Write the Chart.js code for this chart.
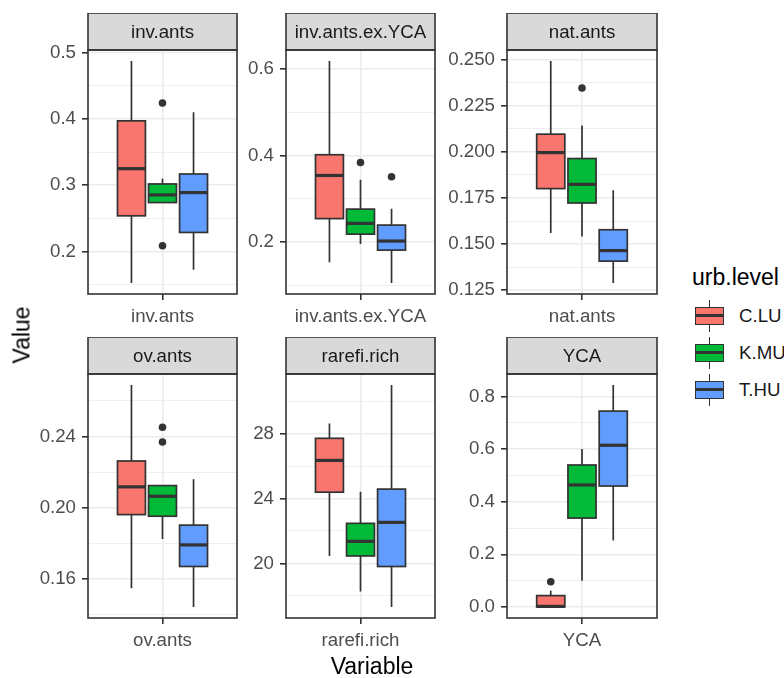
<!DOCTYPE html>
<html>
<head>
<meta charset="utf-8">
<script src="https://cdn.jsdelivr.net/npm/chart.js@4/dist/chart.umd.min.js"></script>
<style>
  body { margin: 0; background: #fff; font-family: "Liberation Sans", Arial, sans-serif; }
  #wrap { position: relative; width: 784px; height: 678px; overflow: hidden; }
  canvas { position: absolute; }
  .txt { position: absolute; white-space: nowrap; line-height: 1; }
  .key { position: absolute; left: 695px; width: 29px; height: 32px; }
  .key .wh { position: absolute; left: 13.7px; top: 0; width: 1.6px; height: 32px; background: #333; }
  .key .bx { position: absolute; left: 0; top: 7px; width: 29px; height: 18px; box-sizing: border-box; border: 1.6px solid #333; }
  .key .md { position: absolute; left: 0; top: 6.3px; width: 100%; height: 2.4px; background: #333; }
</style>
</head>
<body>
<div id="wrap"></div>
<script>
const variables = ['inv.ants', 'inv.ants.ex.YCA', 'nat.ants', 'ov.ants', 'rarefi.rich', 'YCA'];
const groups = ['C.LU', 'K.MU', 'T.HU'];
const groupColors = ['#F8766D', '#00BA38', '#619CFF'];

// per group (C.LU, K.MU, T.HU): [lower whisker, Q1, median, Q3, upper whisker]
const invAnts = [[0.153, 0.254, 0.325, 0.397, 0.487], [0.274, 0.274, 0.2855, 0.302, 0.310], [0.173, 0.229, 0.289, 0.317, 0.410]];
const invAntsExYCA = [[0.153, 0.254, 0.354, 0.402, 0.619], [0.195, 0.218, 0.243, 0.276, 0.344], [0.105, 0.181, 0.202, 0.239, 0.277]];
const natAnts = [[0.156, 0.1801, 0.1996, 0.2096, 0.2492], [0.1541, 0.1723, 0.1824, 0.1964, 0.2143], [0.129, 0.1408, 0.1465, 0.1578, 0.1792]];
const ovAnts = [[0.1549, 0.1962, 0.2118, 0.2263, 0.2689], [0.1825, 0.1953, 0.2065, 0.2125, 0.2125], [0.1444, 0.1671, 0.1792, 0.1903, 0.216]];
const rarefiRich = [[20.46, 24.39, 26.35, 27.71, 28.62], [18.27, 20.46, 21.36, 22.47, 24.41], [17.32, 19.81, 22.53, 24.58, 30.99]];
const yca = [[0, 0, 0.002, 0.043, 0.062], [0.1, 0.338, 0.464, 0.54, 0.601], [0.253, 0.46, 0.615, 0.745, 0.844]];

// outliers per group
const invAntsOut = [[], [0.424, 0.209], []];
const invAntsExYCAOut = [[], [0.384], [0.351]];
const natAntsOut = [[], [0.2346], []];
const ovAntsOut = [[], [0.2452, 0.237], []];
const rarefiRichOut = [[], [], []];
const ycaOut = [[0.096], [], []];

// y tick labels
const invAntsTicks = ['0.2', '0.3', '0.4', '0.5'];
const invAntsExYCATicks = ['0.2', '0.4', '0.6'];
const natAntsTicks = ['0.125', '0.150', '0.175', '0.200', '0.225', '0.250'];
const ovAntsTicks = ['0.16', '0.20', '0.24'];
const rarefiRichTicks = ['20', '24', '28'];
const ycaTicks = ['0.0', '0.2', '0.4', '0.6', '0.8'];

const panels = [
    { stats: invAnts, out: invAntsOut, ticks: invAntsTicks },
    { stats: invAntsExYCA, out: invAntsExYCAOut, ticks: invAntsExYCATicks },
    { stats: natAnts, out: natAntsOut, ticks: natAntsTicks },
    { stats: ovAnts, out: ovAntsOut, ticks: ovAntsTicks },
    { stats: rarefiRich, out: rarefiRichOut, ticks: rarefiRichTicks },
    { stats: yca, out: ycaOut, ticks: ycaTicks }
];

// dodged box positions on the discrete axis (single category at 1)
const groupX = [0.75, 1.0, 1.25];
const halfBox = 0.1125;

const FONT = 'Liberation Sans';
const plotLefts = [88, 286, 507];
const plotWidths = [149, 149, 150];
const stripTops = [13, 337];
const STRIP = 37, PLOT_H = 244, YAX = 78, XAX = 36, PAD_R = 8;

const wrap = document.getElementById('wrap');

function addText(text, x, y, size, color, rotate) {
    const d = document.createElement('div');
    d.className = 'txt';
    d.textContent = text;
    d.style.left = x + 'px';
    d.style.top = y + 'px';
    d.style.fontSize = size + 'px';
    d.style.color = color;
    d.style.transform = 'translate(-50%,-50%)' + (rotate ? ' rotate(-90deg)' : '');
    wrap.appendChild(d);
    return d;
}

function panelPlugin(name, stats) {
    return {
        id: 'boxes',
        beforeDatasetsDraw(chart) {
            const { ctx, scales: { x, y } } = chart;
            ctx.save();
            ctx.strokeStyle = '#333333';
            stats.forEach((s, i) => {
                const c = x.getPixelForValue(groupX[i]);
                const l = x.getPixelForValue(groupX[i] - halfBox);
                const r = x.getPixelForValue(groupX[i] + halfBox);
                ctx.lineWidth = 1.7;
                ctx.beginPath();
                ctx.moveTo(c, y.getPixelForValue(s[0]));
                ctx.lineTo(c, y.getPixelForValue(s[1]));
                ctx.moveTo(c, y.getPixelForValue(s[3]));
                ctx.lineTo(c, y.getPixelForValue(s[4]));
                ctx.stroke();
                const top = y.getPixelForValue(s[3]);
                const bot = y.getPixelForValue(s[1]);
                ctx.fillStyle = groupColors[i];
                ctx.fillRect(l, top, r - l, bot - top);
                ctx.strokeRect(l, top, r - l, bot - top);
                ctx.lineWidth = 3.2;
                const m = y.getPixelForValue(s[2]);
                ctx.beginPath();
                ctx.moveTo(l, m);
                ctx.lineTo(r, m);
                ctx.stroke();
            });
            ctx.restore();
        },
        afterDraw(chart) {
            const { ctx, chartArea: a } = chart;
            ctx.save();
            ctx.lineWidth = 1.6;
            ctx.strokeStyle = '#333333';
            ctx.fillStyle = '#d9d9d9';
            ctx.fillRect(a.left, a.top - STRIP, a.right - a.left, STRIP);
            ctx.strokeRect(a.left, a.top - STRIP, a.right - a.left, STRIP);
            ctx.strokeRect(a.left, a.top, a.right - a.left, a.bottom - a.top);
            ctx.fillStyle = '#1a1a1a';
            ctx.font = '18.7px "' + FONT + '"';
            ctx.textAlign = 'center';
            ctx.textBaseline = 'middle';
            ctx.fillText(name, (a.left + a.right) / 2, a.top - STRIP / 2 + 1);
            ctx.restore();
        }
    };
}

panels.forEach((p, k) => {
    const col = k % 3, row = Math.floor(k / 3);
    const name = variables[k];
    const canvas = document.createElement('canvas');
    const w = YAX + plotWidths[col] + PAD_R;
    const h = STRIP + PLOT_H + XAX;
    canvas.width = w;
    canvas.height = h;
    canvas.style.left = (plotLefts[col] - YAX) + 'px';
    canvas.style.top = stripTops[row] + 'px';
    wrap.appendChild(canvas);

    // y range: data range expanded by 5% on each side
    const all = p.stats.flat().concat(p.out.flat());
    const lo = Math.min(...all), hi = Math.max(...all);
    const ext = (hi - lo) * 0.05;
    const yMin = lo - ext, yMax = hi + ext;

    const major = p.ticks.map(Number);
    const step = major[1] - major[0];
    const minor = [];
    for (let v = major[0] - step / 2; v <= yMax; v += step) {
        if (v >= yMin) minor.push(Number(v.toFixed(6)));
    }
    const isMajor = v => major.some(m => Math.abs(m - v) < step * 1e-3);

    const points = [];
    p.out.forEach((vals, i) => vals.forEach(v => points.push({ x: groupX[i], y: v })));

    new Chart(canvas, {
        type: 'scatter',
        data: {
            datasets: [{
                data: points,
                pointRadius: 3.8,
                pointBackgroundColor: '#333333',
                pointBorderWidth: 0
            }]
        },
        options: {
            responsive: false,
            animation: false,
            layout: { padding: { top: STRIP, right: PAD_R } },
            plugins: { legend: { display: false }, tooltip: { enabled: false } },
            scales: {
                x: {
                    type: 'linear',
                    min: 0.4,
                    max: 1.6,
                    afterBuildTicks: s => { s.ticks = [{ value: 1 }]; },
                    afterFit: s => { s.height = XAX; },
                    border: { display: false },
                    grid: { color: '#ebebeb', lineWidth: 1.6, tickColor: '#333333', tickLength: 6, tickWidth: 1.6 },
                    ticks: { callback: () => name, font: { family: FONT, size: 18.7 }, color: '#4d4d4d', padding: 6, maxRotation: 0 }
                },
                y: {
                    type: 'linear',
                    min: yMin,
                    max: yMax,
                    afterBuildTicks: s => {
                        s.ticks = major.concat(minor).sort((a, b) => a - b).map(v => ({ value: v }));
                    },
                    afterFit: s => { s.width = YAX; },
                    border: { display: false },
                    grid: {
                        color: '#ebebeb',
                        lineWidth: ctx => isMajor(ctx.tick.value) ? 1.6 : 0.8,
                        tickColor: ctx => isMajor(ctx.tick.value) ? '#333333' : 'rgba(0,0,0,0)',
                        tickLength: 6,
                        tickWidth: 1.6
                    },
                    ticks: {
                        autoSkip: false,
                        callback: v => {
                            const i = major.findIndex(m => Math.abs(m - v) < step * 1e-3);
                            return i < 0 ? '' : p.ticks[i];
                        },
                        font: { family: FONT, size: 18.7 },
                        color: '#4d4d4d',
                        padding: 6
                    }
                }
            }
        },
        plugins: [panelPlugin(name, p.stats)]
    });
});

// axis titles
addText('Value', 22, 335, 23, '#000', true);
addText('Variable', 372, 666, 23, '#000', false);

// legend
const lt = addText('urb.level', 692, 277, 23, '#000', false);
lt.style.transform = 'translate(0,-50%)';
groups.forEach((g, i) => {
    const top = 300 + i * 37;
    const key = document.createElement('div');
    key.className = 'key';
    key.style.top = top + 'px';
    key.innerHTML = '<div class="wh"></div><div class="bx" style="background:' + groupColors[i] + '"><div class="md"></div></div>';
    wrap.appendChild(key);
    const t = addText(g, 739, top + 16, 18.7, '#1a1a1a', false);
    t.style.transform = 'translate(0,-50%)';
});
</script>
</body>
</html>
